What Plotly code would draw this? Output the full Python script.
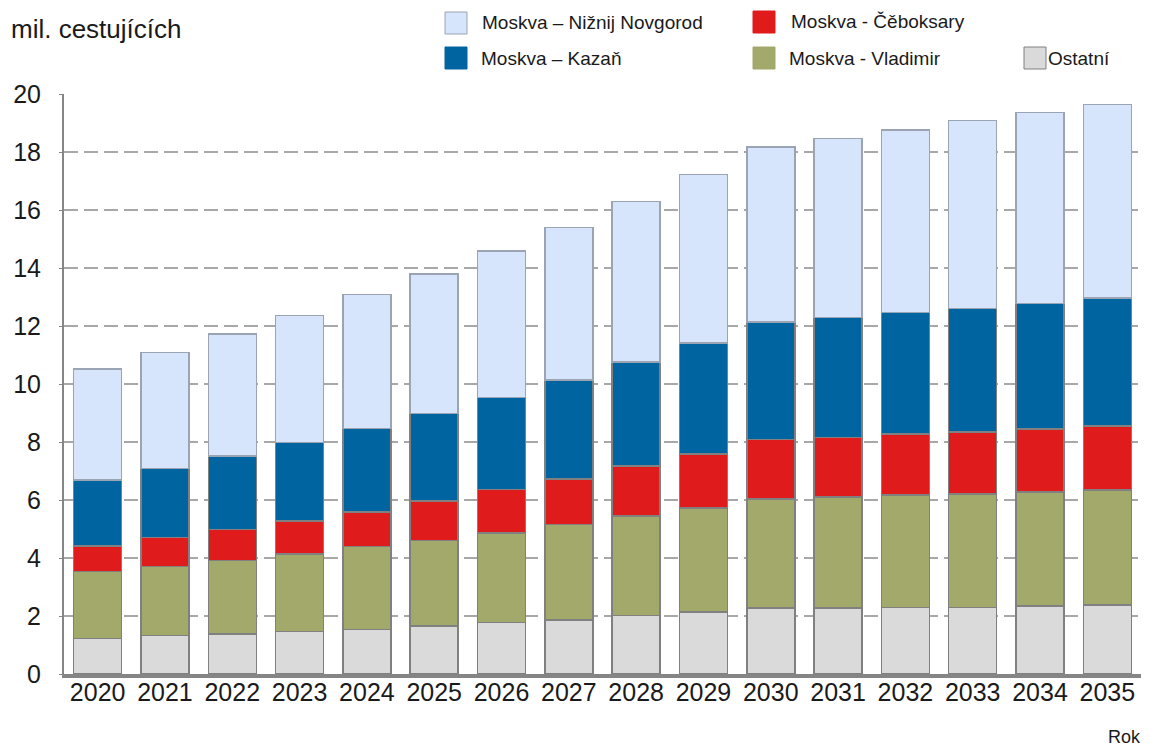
import plotly.graph_objects as go

years = [str(y) for y in range(2020, 2036)]

ostatni = [1.23, 1.32, 1.38, 1.46, 1.54, 1.66, 1.77, 1.86, 2.02, 2.13, 2.27, 2.27, 2.30, 2.30, 2.34, 2.38]
vladimir = [2.30, 2.38, 2.53, 2.68, 2.85, 2.94, 3.10, 3.29, 3.43, 3.59, 3.77, 3.84, 3.88, 3.91, 3.94, 3.96]
ceboksary = [0.88, 1.00, 1.08, 1.14, 1.20, 1.36, 1.49, 1.58, 1.72, 1.87, 2.05, 2.05, 2.09, 2.13, 2.17, 2.22]
kazan = [2.28, 2.39, 2.53, 2.70, 2.87, 3.03, 3.18, 3.41, 3.59, 3.83, 4.04, 4.13, 4.19, 4.27, 4.33, 4.41]
novgorod = [3.82, 3.99, 4.20, 4.39, 4.62, 4.80, 5.04, 5.26, 5.54, 5.80, 6.05, 6.18, 6.30, 6.47, 6.58, 6.67]

y_ticks = [0, 2, 4, 6, 8, 10, 12, 14, 16, 18, 20]

# (name, values, fill, outline) bottom to top
series = [
    ("Ostatní", ostatni, "#DADADA", "#808080"),
    ("Moskva - Vladimir", vladimir, "#A3A86B", "#808080"),
    ("Moskva - Čěboksary", ceboksary, "#E01B1B", "#808080"),
    ("Moskva – Kazaň", kazan, "#0064A0", "#808080"),
    ("Moskva – Nižnij Novgorod", novgorod, "#D6E5FB", "#9AA4B2"),
]

# the page adds an 8px body margin, so the figure is 8px smaller and
# all pixel positions below are page positions minus 8
OFF = 8
W, H = 1157 - OFF, 749 - OFF
L, R, T, B = 64 - OFF, 16, 94 - OFF, 75
FONT = "Liberation Sans, Arial, sans-serif"

def px(x):
    return (x - OFF - L) / (W - L - R)

def py(y):
    return (H - B - (y - OFF)) / (H - T - B)

fig = go.Figure()
for name, vals, fill, edge in series:
    fig.add_trace(go.Bar(x=years, y=vals, name=name,
                         marker=dict(color=fill, line=dict(color=edge, width=1.5))))

fig.update_layout(
    width=W, height=H,
    margin=dict(l=L, r=R, t=T, b=B),
    barmode="stack", bargap=0.287,
    plot_bgcolor="white", paper_bgcolor="white",
    showlegend=False,
    font=dict(family=FONT, size=24, color="#1a1a1a"),
    xaxis=dict(showline=True, linecolor="#858585", linewidth=4, automargin=False,
               ticks="", ticklabelstandoff=-7, tickfont=dict(size=25)),
    yaxis=dict(range=[0, 20], tickvals=y_ticks, showline=True, linecolor="#858585",
               linewidth=2, ticks="outside", ticklen=3, tickcolor="#858585",
               gridcolor="#A8A8A8", gridwidth=1.5, griddash="14px,6px", automargin=False,
               zeroline=False, ticklabelstandoff=13, tickfont=dict(size=25)),
)

fig.add_annotation(x=px(9), y=py(29), xref="paper", yref="paper", text="mil. cestujících",
                   showarrow=False, xanchor="left", yanchor="middle", font=dict(size=26))
fig.add_annotation(x=px(1143), y=py(737), xref="paper", yref="paper", text="Rok",
                   showarrow=False, xanchor="right", yanchor="middle", font=dict(size=18))

# legend drawn by hand: (series index, swatch left, row centre, text left)
legend_pos = [(4, 445, 23, 480), (2, 753, 22, 789),
              (3, 445, 58, 479), (1, 753, 58, 787), (0, 1024, 58, 1046)]
for i, x0, yc, tx in legend_pos:
    name, _, fill, edge = series[i]
    fig.add_shape(type="rect", xref="paper", yref="paper",
                  x0=px(x0), x1=px(x0 + 22), y0=py(yc - 11), y1=py(yc + 11),
                  fillcolor=fill, line=dict(color=edge if fill in ("#D6E5FB", "#DADADA") else fill, width=1))
    fig.add_annotation(x=px(tx), y=py(yc), xref="paper", yref="paper", text=name,
                       showarrow=False, xanchor="left", yanchor="middle", font=dict(size=19))

fig.write_html("out.html")
